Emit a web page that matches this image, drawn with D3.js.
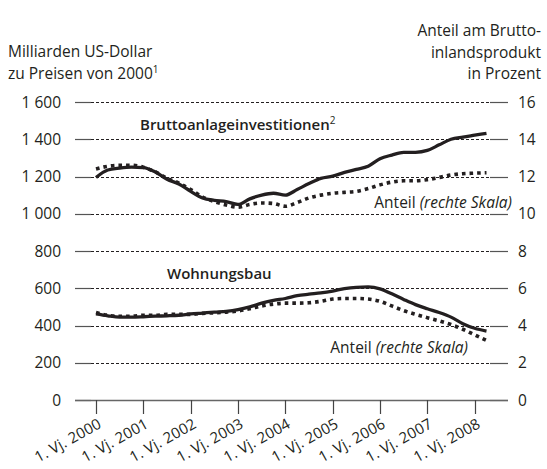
<!DOCTYPE html>
<html>
<head>
<meta charset="utf-8">
<script src="https://cdn.jsdelivr.net/npm/d3@7"></script>
<style>
  body { margin: 0; background: #fff; }
  svg { font-family: "Open Sans", Lato, sans-serif; }
</style>
</head>
<body>
<svg id="chart" width="547" height="469"></svg>
<script>
// quarters from 1. Vj. 2000 to 2. Vj. 2008
var years = [2000, 2001, 2002, 2003, 2004, 2005, 2006, 2007, 2008];
var leftTicks = [0, 200, 400, 600, 800, 1000, 1200, 1400, 1600];
var rightTicks = [0, 2, 4, 6, 8, 10, 12, 14, 16];

// Bruttoanlageinvestitionen, Mrd. US-Dollar (linke Skala)
var invest = [1195, 1235, 1245, 1250, 1248, 1225, 1185, 1160, 1120, 1085, 1072, 1065,
  1050, 1080, 1100, 1110, 1100, 1130, 1162, 1190, 1202, 1222, 1238, 1255,
  1295, 1315, 1330, 1330, 1340, 1370, 1400, 1412, 1422, 1432];
// Anteil am BIP in % (rechte Skala)
var investShare = [12.4, 12.55, 12.6, 12.6, 12.5, 12.25, 11.9, 11.65, 11.3, 10.9, 10.65, 10.47,
  10.35, 10.5, 10.58, 10.55, 10.4, 10.6, 10.85, 11.0, 11.1, 11.15, 11.2, 11.35,
  11.55, 11.7, 11.77, 11.77, 11.83, 11.95, 12.08, 12.15, 12.18, 12.2];
// Wohnungsbau, Mrd. US-Dollar
var housing = [462, 452, 445, 445, 447, 450, 452, 455, 462, 467, 472, 476,
  485, 500, 520, 535, 545, 560, 568, 575, 585, 598, 605, 607,
  597, 570, 540, 512, 490, 470, 445, 410, 385, 370];
var housingShare = [4.7, 4.55, 4.5, 4.5, 4.55, 4.55, 4.6, 4.6, 4.6, 4.65, 4.68, 4.72,
  4.78, 4.9, 5.05, 5.15, 5.2, 5.2, 5.22, 5.3, 5.42, 5.45, 5.45, 5.42,
  5.3, 5.05, 4.8, 4.6, 4.42, 4.25, 4.05, 3.8, 3.5, 3.2];

var svg = d3.select("#chart");
var ink = "#231f20";
var fs = 15.5;

var x = d3.scaleLinear().domain([0, 33]).range([96, 486.5]);
var yL = d3.scaleLinear().domain([0, 1600]).range([400, 102]);
var yR = d3.scaleLinear().domain([0, 16]).range([400, 102]);

var plotL = 91, plotR = 490;

// grid + tick stubs
var grid = svg.append("g");
leftTicks.forEach(function(t) {
  var yy = Math.round(yL(t)) + 0.5;
  if (t > 0) {
    grid.append("line").attr("x1", plotL).attr("x2", plotR).attr("y1", yy).attr("y2", yy)
      .attr("stroke", ink).attr("stroke-width", 1).attr("stroke-dasharray", "3,2");
  }
  grid.append("line").attr("x1", 75).attr("x2", plotL).attr("y1", yy).attr("y2", yy)
    .attr("stroke", "#555").attr("stroke-width", 1.2);
  grid.append("line").attr("x1", plotR).attr("x2", 508).attr("y1", yy).attr("y2", yy)
    .attr("stroke", "#555").attr("stroke-width", 1.2);
});
// baseline
grid.append("line").attr("x1", 75).attr("x2", 508)
  .attr("y1", Math.round(yL(0)) + 0.5).attr("y2", Math.round(yL(0)) + 0.5)
  .attr("stroke", "#666").attr("stroke-width", 1.3);

// axis labels
svg.append("g").selectAll("text").data(leftTicks).join("text")
  .attr("x", 61).attr("y", function(d) { return yL(d) + 5.5; })
  .attr("text-anchor", "end").attr("font-size", fs).attr("fill", ink)
  .text(function(d) { return d >= 1000 ? Math.floor(d / 1000) + " " + d3.format("03")(d % 1000) : d; });

svg.append("g").selectAll("text").data(rightTicks).join("text")
  .attr("x", 518).attr("y", function(d) { return yR(d) + 5.5; })
  .attr("font-size", fs).attr("fill", ink)
  .text(function(d) { return d; });

// x axis ticks + rotated labels
var xg = svg.append("g");
years.forEach(function(yr, i) {
  var xx = Math.round(x(i * 4)) + 0.5;
  xg.append("line").attr("x1", xx).attr("x2", xx).attr("y1", 400).attr("y2", 414)
    .attr("stroke", "#444").attr("stroke-width", 1.2);
  xg.append("text")
    .attr("transform", "translate(" + (xx + 6) + ",427) rotate(-29)")
    .attr("text-anchor", "end").attr("font-size", 15).attr("fill", ink)
    .attr("letter-spacing", 0.2)
    .text("1. Vj. " + yr);
});

// lines
var idx = d3.range(invest.length);
var lineL = function(arr) {
  return d3.line().x(function(i) { return x(i); }).y(function(i) { return yL(arr[i]); })
    .curve(d3.curveMonotoneX)(idx);
};
var lineR = function(arr) {
  return d3.line().x(function(i) { return x(i); }).y(function(i) { return yR(arr[i]); })
    .curve(d3.curveMonotoneX)(idx);
};

[investShare, housingShare].forEach(function(arr) {
  svg.append("path").attr("d", lineR(arr)).attr("fill", "none")
    .attr("stroke", ink).attr("stroke-width", 3.6).attr("stroke-dasharray", "3.6,4");
});
[invest, housing].forEach(function(arr) {
  svg.append("path").attr("d", lineL(arr)).attr("fill", "none")
    .attr("stroke", ink).attr("stroke-width", 3.3).attr("stroke-linejoin", "round");
});

// titles
svg.append("text").attr("x", 8).attr("y", 57).attr("font-size", fs).attr("fill", ink)
  .text("Milliarden US-Dollar");
var t2 = svg.append("text").attr("x", 8).attr("y", 79).attr("font-size", fs).attr("fill", ink);
t2.append("tspan").text("zu Preisen von 2000");
t2.append("tspan").attr("font-size", 10).attr("dy", -6).text("1");

["Anteil am Brutto-", "inlandsprodukt", "in Prozent"].forEach(function(s, i) {
  svg.append("text").attr("x", 541).attr("y", 36 + i * 21.5).attr("text-anchor", "end")
    .attr("font-size", fs).attr("fill", ink).text(s);
});

// series labels
var b1 = svg.append("text").attr("x", 140).attr("y", 130).attr("font-size", 15)
  .attr("font-weight", 600).attr("fill", ink);
b1.append("tspan").text("Bruttoanlageinvestitionen");
b1.append("tspan").attr("font-size", 10).attr("dy", -6).attr("font-weight", "normal").text("2");

svg.append("text").attr("x", 167).attr("y", 279).attr("font-size", 15)
  .attr("font-weight", 600).attr("fill", ink).text("Wohnungsbau");

function anteil(xx, yy) {
  var t = svg.append("text").attr("x", xx).attr("y", yy).attr("text-anchor", "end")
    .attr("font-size", fs).attr("fill", ink);
  t.append("tspan").text("Anteil ");
  t.append("tspan").attr("font-style", "italic").text("(rechte Skala)");
}
anteil(512, 208);
anteil(468, 353);
</script>
</body>
</html>
